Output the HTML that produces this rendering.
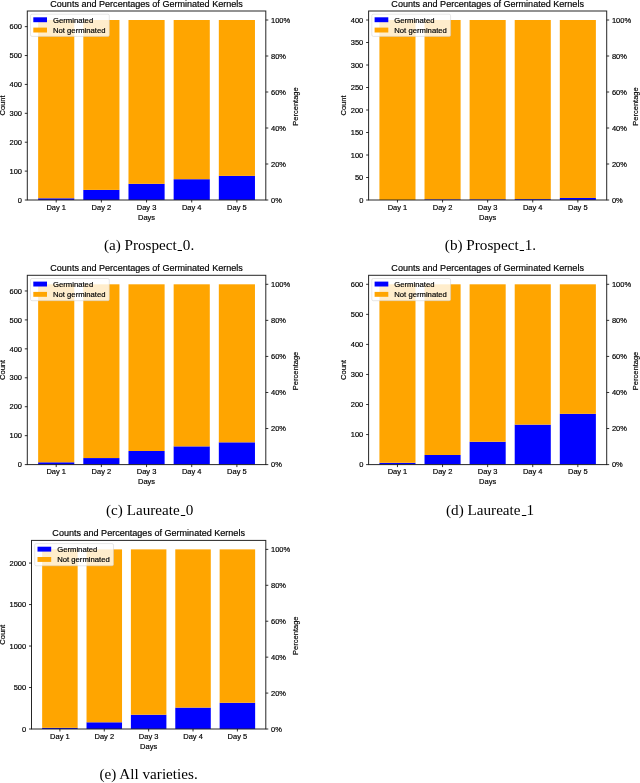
<!DOCTYPE html>
<html><head><meta charset="utf-8"><style>
html,body{margin:0;padding:0;background:#fff;}
body{width:640px;height:783px;position:relative;overflow:hidden;filter:blur(0.3px);}
svg{position:absolute;left:0;top:0;}
svg text{font-family:"Liberation Sans", sans-serif;fill:#000;stroke:#000;stroke-width:0.18px;}
.cap{position:absolute;width:200px;text-align:center;font-family:"Liberation Serif",serif;font-size:13.8px;line-height:15px;color:#000;white-space:nowrap;}
.us{display:inline-block;width:4.0px;height:0.9px;background:#000;vertical-align:baseline;position:relative;top:1.1px;margin:0 0.3px 0 1.2px;}
.cap span.t{display:inline-block;transform-origin:50% 50%;}
</style></head><body>
<svg width="640" height="783" viewBox="0 0 640 783">
<rect x="38.14" y="198.27" width="36.14" height="1.73" fill="#0000ff"/>
<rect x="38.14" y="20.00" width="36.14" height="178.27" fill="#ffa500"/>
<rect x="83.31" y="189.89" width="36.14" height="10.11" fill="#0000ff"/>
<rect x="83.31" y="20.00" width="36.14" height="169.89" fill="#ffa500"/>
<rect x="128.48" y="183.82" width="36.14" height="16.18" fill="#0000ff"/>
<rect x="128.48" y="20.00" width="36.14" height="163.82" fill="#ffa500"/>
<rect x="173.65" y="179.20" width="36.14" height="20.80" fill="#0000ff"/>
<rect x="173.65" y="20.00" width="36.14" height="159.20" fill="#ffa500"/>
<rect x="218.82" y="175.87" width="36.14" height="24.13" fill="#0000ff"/>
<rect x="218.82" y="20.00" width="36.14" height="155.87" fill="#ffa500"/>
<rect x="30.50" y="14.20" width="78.8" height="22.2" rx="1.5" fill="rgba(255,255,255,0.8)" stroke="rgba(204,204,204,0.8)" stroke-width="0.6"/>
<rect x="33.30" y="17.30" width="13.7" height="4.9" fill="#0000ff"/>
<rect x="33.30" y="27.60" width="13.7" height="4.9" fill="#ffa500"/>
<text x="53.00" y="22.60" font-size="7.7">Germinated</text>
<text x="53.00" y="32.80" font-size="7.7">Not germinated</text>
<rect x="27.30" y="11.00" width="238.50" height="189.00" fill="none" stroke="#262626" stroke-width="1.0"/>
<line x1="24.80" y1="200.00" x2="27.30" y2="200.00" stroke="#000" stroke-width="0.8"/>
<text x="22.00" y="202.70" font-size="7.5" text-anchor="end">0</text>
<line x1="24.80" y1="171.11" x2="27.30" y2="171.11" stroke="#000" stroke-width="0.8"/>
<text x="22.00" y="173.81" font-size="7.5" text-anchor="end">100</text>
<line x1="24.80" y1="142.22" x2="27.30" y2="142.22" stroke="#000" stroke-width="0.8"/>
<text x="22.00" y="144.92" font-size="7.5" text-anchor="end">200</text>
<line x1="24.80" y1="113.32" x2="27.30" y2="113.32" stroke="#000" stroke-width="0.8"/>
<text x="22.00" y="116.02" font-size="7.5" text-anchor="end">300</text>
<line x1="24.80" y1="84.43" x2="27.30" y2="84.43" stroke="#000" stroke-width="0.8"/>
<text x="22.00" y="87.13" font-size="7.5" text-anchor="end">400</text>
<line x1="24.80" y1="55.54" x2="27.30" y2="55.54" stroke="#000" stroke-width="0.8"/>
<text x="22.00" y="58.24" font-size="7.5" text-anchor="end">500</text>
<line x1="24.80" y1="26.65" x2="27.30" y2="26.65" stroke="#000" stroke-width="0.8"/>
<text x="22.00" y="29.35" font-size="7.5" text-anchor="end">600</text>
<line x1="265.80" y1="200.00" x2="268.30" y2="200.00" stroke="#000" stroke-width="0.8"/>
<text x="271.00" y="202.70" font-size="7.5">0%</text>
<line x1="265.80" y1="164.00" x2="268.30" y2="164.00" stroke="#000" stroke-width="0.8"/>
<text x="271.00" y="166.70" font-size="7.5">20%</text>
<line x1="265.80" y1="128.00" x2="268.30" y2="128.00" stroke="#000" stroke-width="0.8"/>
<text x="271.00" y="130.70" font-size="7.5">40%</text>
<line x1="265.80" y1="92.00" x2="268.30" y2="92.00" stroke="#000" stroke-width="0.8"/>
<text x="271.00" y="94.70" font-size="7.5">60%</text>
<line x1="265.80" y1="56.00" x2="268.30" y2="56.00" stroke="#000" stroke-width="0.8"/>
<text x="271.00" y="58.70" font-size="7.5">80%</text>
<line x1="265.80" y1="20.00" x2="268.30" y2="20.00" stroke="#000" stroke-width="0.8"/>
<text x="271.00" y="22.70" font-size="7.5">100%</text>
<line x1="56.21" y1="200.00" x2="56.21" y2="202.50" stroke="#000" stroke-width="0.8"/>
<text x="56.21" y="209.75" font-size="7.5" text-anchor="middle">Day 1</text>
<line x1="101.38" y1="200.00" x2="101.38" y2="202.50" stroke="#000" stroke-width="0.8"/>
<text x="101.38" y="209.75" font-size="7.5" text-anchor="middle">Day 2</text>
<line x1="146.55" y1="200.00" x2="146.55" y2="202.50" stroke="#000" stroke-width="0.8"/>
<text x="146.55" y="209.75" font-size="7.5" text-anchor="middle">Day 3</text>
<line x1="191.72" y1="200.00" x2="191.72" y2="202.50" stroke="#000" stroke-width="0.8"/>
<text x="191.72" y="209.75" font-size="7.5" text-anchor="middle">Day 4</text>
<line x1="236.89" y1="200.00" x2="236.89" y2="202.50" stroke="#000" stroke-width="0.8"/>
<text x="236.89" y="209.75" font-size="7.5" text-anchor="middle">Day 5</text>
<text x="146.55" y="219.70" font-size="7.5" text-anchor="middle">Days</text>
<text transform="translate(4.90,105.50) rotate(-90)" font-size="7.5" text-anchor="middle">Count</text>
<text transform="translate(297.50,106.50) rotate(-90)" font-size="7.5" text-anchor="middle">Percentage</text>
<text x="146.55" y="7.00" font-size="8.7" text-anchor="middle" textLength="192.6" lengthAdjust="spacingAndGlyphs">Counts and Percentages of Germinated Kernels</text><rect x="379.42" y="200.00" width="36.08" height="0.00" fill="#0000ff"/>
<rect x="379.42" y="20.00" width="36.08" height="180.00" fill="#ffa500"/>
<rect x="424.52" y="199.32" width="36.08" height="0.68" fill="#0000ff"/>
<rect x="424.52" y="20.00" width="36.08" height="179.32" fill="#ffa500"/>
<rect x="469.61" y="199.32" width="36.08" height="0.68" fill="#0000ff"/>
<rect x="469.61" y="20.00" width="36.08" height="179.32" fill="#ffa500"/>
<rect x="514.71" y="199.10" width="36.08" height="0.90" fill="#0000ff"/>
<rect x="514.71" y="20.00" width="36.08" height="179.10" fill="#ffa500"/>
<rect x="559.80" y="197.97" width="36.08" height="2.03" fill="#0000ff"/>
<rect x="559.80" y="20.00" width="36.08" height="177.97" fill="#ffa500"/>
<rect x="371.80" y="14.20" width="78.8" height="22.2" rx="1.5" fill="rgba(255,255,255,0.8)" stroke="rgba(204,204,204,0.8)" stroke-width="0.6"/>
<rect x="374.60" y="17.30" width="13.7" height="4.9" fill="#0000ff"/>
<rect x="374.60" y="27.60" width="13.7" height="4.9" fill="#ffa500"/>
<text x="394.30" y="22.60" font-size="7.7">Germinated</text>
<text x="394.30" y="32.80" font-size="7.7">Not germinated</text>
<rect x="368.60" y="11.00" width="238.10" height="189.00" fill="none" stroke="#262626" stroke-width="1.0"/>
<line x1="366.10" y1="200.00" x2="368.60" y2="200.00" stroke="#000" stroke-width="0.8"/>
<text x="363.30" y="202.70" font-size="7.5" text-anchor="end">0</text>
<line x1="366.10" y1="177.50" x2="368.60" y2="177.50" stroke="#000" stroke-width="0.8"/>
<text x="363.30" y="180.20" font-size="7.5" text-anchor="end">50</text>
<line x1="366.10" y1="155.00" x2="368.60" y2="155.00" stroke="#000" stroke-width="0.8"/>
<text x="363.30" y="157.70" font-size="7.5" text-anchor="end">100</text>
<line x1="366.10" y1="132.50" x2="368.60" y2="132.50" stroke="#000" stroke-width="0.8"/>
<text x="363.30" y="135.20" font-size="7.5" text-anchor="end">150</text>
<line x1="366.10" y1="110.00" x2="368.60" y2="110.00" stroke="#000" stroke-width="0.8"/>
<text x="363.30" y="112.70" font-size="7.5" text-anchor="end">200</text>
<line x1="366.10" y1="87.50" x2="368.60" y2="87.50" stroke="#000" stroke-width="0.8"/>
<text x="363.30" y="90.20" font-size="7.5" text-anchor="end">250</text>
<line x1="366.10" y1="65.00" x2="368.60" y2="65.00" stroke="#000" stroke-width="0.8"/>
<text x="363.30" y="67.70" font-size="7.5" text-anchor="end">300</text>
<line x1="366.10" y1="42.50" x2="368.60" y2="42.50" stroke="#000" stroke-width="0.8"/>
<text x="363.30" y="45.20" font-size="7.5" text-anchor="end">350</text>
<line x1="366.10" y1="20.00" x2="368.60" y2="20.00" stroke="#000" stroke-width="0.8"/>
<text x="363.30" y="22.70" font-size="7.5" text-anchor="end">400</text>
<line x1="606.70" y1="200.00" x2="609.20" y2="200.00" stroke="#000" stroke-width="0.8"/>
<text x="611.90" y="202.70" font-size="7.5">0%</text>
<line x1="606.70" y1="164.00" x2="609.20" y2="164.00" stroke="#000" stroke-width="0.8"/>
<text x="611.90" y="166.70" font-size="7.5">20%</text>
<line x1="606.70" y1="128.00" x2="609.20" y2="128.00" stroke="#000" stroke-width="0.8"/>
<text x="611.90" y="130.70" font-size="7.5">40%</text>
<line x1="606.70" y1="92.00" x2="609.20" y2="92.00" stroke="#000" stroke-width="0.8"/>
<text x="611.90" y="94.70" font-size="7.5">60%</text>
<line x1="606.70" y1="56.00" x2="609.20" y2="56.00" stroke="#000" stroke-width="0.8"/>
<text x="611.90" y="58.70" font-size="7.5">80%</text>
<line x1="606.70" y1="20.00" x2="609.20" y2="20.00" stroke="#000" stroke-width="0.8"/>
<text x="611.90" y="22.70" font-size="7.5">100%</text>
<line x1="397.46" y1="200.00" x2="397.46" y2="202.50" stroke="#000" stroke-width="0.8"/>
<text x="397.46" y="209.75" font-size="7.5" text-anchor="middle">Day 1</text>
<line x1="442.56" y1="200.00" x2="442.56" y2="202.50" stroke="#000" stroke-width="0.8"/>
<text x="442.56" y="209.75" font-size="7.5" text-anchor="middle">Day 2</text>
<line x1="487.65" y1="200.00" x2="487.65" y2="202.50" stroke="#000" stroke-width="0.8"/>
<text x="487.65" y="209.75" font-size="7.5" text-anchor="middle">Day 3</text>
<line x1="532.74" y1="200.00" x2="532.74" y2="202.50" stroke="#000" stroke-width="0.8"/>
<text x="532.74" y="209.75" font-size="7.5" text-anchor="middle">Day 4</text>
<line x1="577.84" y1="200.00" x2="577.84" y2="202.50" stroke="#000" stroke-width="0.8"/>
<text x="577.84" y="209.75" font-size="7.5" text-anchor="middle">Day 5</text>
<text x="487.65" y="219.70" font-size="7.5" text-anchor="middle">Days</text>
<text transform="translate(345.70,105.50) rotate(-90)" font-size="7.5" text-anchor="middle">Count</text>
<text transform="translate(638.40,106.50) rotate(-90)" font-size="7.5" text-anchor="middle">Percentage</text>
<text x="487.65" y="7.00" font-size="8.7" text-anchor="middle" textLength="192.6" lengthAdjust="spacingAndGlyphs">Counts and Percentages of Germinated Kernels</text><rect x="38.14" y="462.28" width="36.14" height="2.32" fill="#0000ff"/>
<rect x="38.14" y="284.31" width="36.14" height="177.97" fill="#ffa500"/>
<rect x="83.31" y="458.06" width="36.14" height="6.54" fill="#0000ff"/>
<rect x="83.31" y="284.31" width="36.14" height="173.75" fill="#ffa500"/>
<rect x="128.48" y="451.00" width="36.14" height="13.60" fill="#0000ff"/>
<rect x="128.48" y="284.31" width="36.14" height="166.68" fill="#ffa500"/>
<rect x="173.65" y="446.37" width="36.14" height="18.23" fill="#0000ff"/>
<rect x="173.65" y="284.31" width="36.14" height="162.05" fill="#ffa500"/>
<rect x="218.82" y="442.32" width="36.14" height="22.28" fill="#0000ff"/>
<rect x="218.82" y="284.31" width="36.14" height="158.00" fill="#ffa500"/>
<rect x="30.50" y="278.50" width="78.8" height="22.2" rx="1.5" fill="rgba(255,255,255,0.8)" stroke="rgba(204,204,204,0.8)" stroke-width="0.6"/>
<rect x="33.30" y="281.60" width="13.7" height="4.9" fill="#0000ff"/>
<rect x="33.30" y="291.90" width="13.7" height="4.9" fill="#ffa500"/>
<text x="53.00" y="286.90" font-size="7.7">Germinated</text>
<text x="53.00" y="297.10" font-size="7.7">Not germinated</text>
<rect x="27.30" y="275.30" width="238.50" height="189.30" fill="none" stroke="#262626" stroke-width="1.0"/>
<line x1="24.80" y1="464.60" x2="27.30" y2="464.60" stroke="#000" stroke-width="0.8"/>
<text x="22.00" y="467.30" font-size="7.5" text-anchor="end">0</text>
<line x1="24.80" y1="435.66" x2="27.30" y2="435.66" stroke="#000" stroke-width="0.8"/>
<text x="22.00" y="438.36" font-size="7.5" text-anchor="end">100</text>
<line x1="24.80" y1="406.72" x2="27.30" y2="406.72" stroke="#000" stroke-width="0.8"/>
<text x="22.00" y="409.42" font-size="7.5" text-anchor="end">200</text>
<line x1="24.80" y1="377.79" x2="27.30" y2="377.79" stroke="#000" stroke-width="0.8"/>
<text x="22.00" y="380.49" font-size="7.5" text-anchor="end">300</text>
<line x1="24.80" y1="348.85" x2="27.30" y2="348.85" stroke="#000" stroke-width="0.8"/>
<text x="22.00" y="351.55" font-size="7.5" text-anchor="end">400</text>
<line x1="24.80" y1="319.91" x2="27.30" y2="319.91" stroke="#000" stroke-width="0.8"/>
<text x="22.00" y="322.61" font-size="7.5" text-anchor="end">500</text>
<line x1="24.80" y1="290.97" x2="27.30" y2="290.97" stroke="#000" stroke-width="0.8"/>
<text x="22.00" y="293.67" font-size="7.5" text-anchor="end">600</text>
<line x1="265.80" y1="464.60" x2="268.30" y2="464.60" stroke="#000" stroke-width="0.8"/>
<text x="271.00" y="467.30" font-size="7.5">0%</text>
<line x1="265.80" y1="428.54" x2="268.30" y2="428.54" stroke="#000" stroke-width="0.8"/>
<text x="271.00" y="431.24" font-size="7.5">20%</text>
<line x1="265.80" y1="392.49" x2="268.30" y2="392.49" stroke="#000" stroke-width="0.8"/>
<text x="271.00" y="395.19" font-size="7.5">40%</text>
<line x1="265.80" y1="356.43" x2="268.30" y2="356.43" stroke="#000" stroke-width="0.8"/>
<text x="271.00" y="359.13" font-size="7.5">60%</text>
<line x1="265.80" y1="320.37" x2="268.30" y2="320.37" stroke="#000" stroke-width="0.8"/>
<text x="271.00" y="323.07" font-size="7.5">80%</text>
<line x1="265.80" y1="284.31" x2="268.30" y2="284.31" stroke="#000" stroke-width="0.8"/>
<text x="271.00" y="287.01" font-size="7.5">100%</text>
<line x1="56.21" y1="464.60" x2="56.21" y2="467.10" stroke="#000" stroke-width="0.8"/>
<text x="56.21" y="474.35" font-size="7.5" text-anchor="middle">Day 1</text>
<line x1="101.38" y1="464.60" x2="101.38" y2="467.10" stroke="#000" stroke-width="0.8"/>
<text x="101.38" y="474.35" font-size="7.5" text-anchor="middle">Day 2</text>
<line x1="146.55" y1="464.60" x2="146.55" y2="467.10" stroke="#000" stroke-width="0.8"/>
<text x="146.55" y="474.35" font-size="7.5" text-anchor="middle">Day 3</text>
<line x1="191.72" y1="464.60" x2="191.72" y2="467.10" stroke="#000" stroke-width="0.8"/>
<text x="191.72" y="474.35" font-size="7.5" text-anchor="middle">Day 4</text>
<line x1="236.89" y1="464.60" x2="236.89" y2="467.10" stroke="#000" stroke-width="0.8"/>
<text x="236.89" y="474.35" font-size="7.5" text-anchor="middle">Day 5</text>
<text x="146.55" y="484.30" font-size="7.5" text-anchor="middle">Days</text>
<text transform="translate(4.90,369.95) rotate(-90)" font-size="7.5" text-anchor="middle">Count</text>
<text transform="translate(297.50,370.95) rotate(-90)" font-size="7.5" text-anchor="middle">Percentage</text>
<text x="146.55" y="271.30" font-size="8.7" text-anchor="middle" textLength="192.6" lengthAdjust="spacingAndGlyphs">Counts and Percentages of Germinated Kernels</text><rect x="379.42" y="462.80" width="36.08" height="1.80" fill="#0000ff"/>
<rect x="379.42" y="284.31" width="36.08" height="178.48" fill="#ffa500"/>
<rect x="424.52" y="454.98" width="36.08" height="9.62" fill="#0000ff"/>
<rect x="424.52" y="284.31" width="36.08" height="170.67" fill="#ffa500"/>
<rect x="469.61" y="441.76" width="36.08" height="22.84" fill="#0000ff"/>
<rect x="469.61" y="284.31" width="36.08" height="157.45" fill="#ffa500"/>
<rect x="514.71" y="424.64" width="36.08" height="39.96" fill="#0000ff"/>
<rect x="514.71" y="284.31" width="36.08" height="140.32" fill="#ffa500"/>
<rect x="559.80" y="413.82" width="36.08" height="50.78" fill="#0000ff"/>
<rect x="559.80" y="284.31" width="36.08" height="129.51" fill="#ffa500"/>
<rect x="371.80" y="278.50" width="78.8" height="22.2" rx="1.5" fill="rgba(255,255,255,0.8)" stroke="rgba(204,204,204,0.8)" stroke-width="0.6"/>
<rect x="374.60" y="281.60" width="13.7" height="4.9" fill="#0000ff"/>
<rect x="374.60" y="291.90" width="13.7" height="4.9" fill="#ffa500"/>
<text x="394.30" y="286.90" font-size="7.7">Germinated</text>
<text x="394.30" y="297.10" font-size="7.7">Not germinated</text>
<rect x="368.60" y="275.30" width="238.10" height="189.30" fill="none" stroke="#262626" stroke-width="1.0"/>
<line x1="366.10" y1="464.60" x2="368.60" y2="464.60" stroke="#000" stroke-width="0.8"/>
<text x="363.30" y="467.30" font-size="7.5" text-anchor="end">0</text>
<line x1="366.10" y1="434.55" x2="368.60" y2="434.55" stroke="#000" stroke-width="0.8"/>
<text x="363.30" y="437.25" font-size="7.5" text-anchor="end">100</text>
<line x1="366.10" y1="404.50" x2="368.60" y2="404.50" stroke="#000" stroke-width="0.8"/>
<text x="363.30" y="407.20" font-size="7.5" text-anchor="end">200</text>
<line x1="366.10" y1="374.46" x2="368.60" y2="374.46" stroke="#000" stroke-width="0.8"/>
<text x="363.30" y="377.16" font-size="7.5" text-anchor="end">300</text>
<line x1="366.10" y1="344.41" x2="368.60" y2="344.41" stroke="#000" stroke-width="0.8"/>
<text x="363.30" y="347.11" font-size="7.5" text-anchor="end">400</text>
<line x1="366.10" y1="314.36" x2="368.60" y2="314.36" stroke="#000" stroke-width="0.8"/>
<text x="363.30" y="317.06" font-size="7.5" text-anchor="end">500</text>
<line x1="366.10" y1="284.31" x2="368.60" y2="284.31" stroke="#000" stroke-width="0.8"/>
<text x="363.30" y="287.01" font-size="7.5" text-anchor="end">600</text>
<line x1="606.70" y1="464.60" x2="609.20" y2="464.60" stroke="#000" stroke-width="0.8"/>
<text x="611.90" y="467.30" font-size="7.5">0%</text>
<line x1="606.70" y1="428.54" x2="609.20" y2="428.54" stroke="#000" stroke-width="0.8"/>
<text x="611.90" y="431.24" font-size="7.5">20%</text>
<line x1="606.70" y1="392.49" x2="609.20" y2="392.49" stroke="#000" stroke-width="0.8"/>
<text x="611.90" y="395.19" font-size="7.5">40%</text>
<line x1="606.70" y1="356.43" x2="609.20" y2="356.43" stroke="#000" stroke-width="0.8"/>
<text x="611.90" y="359.13" font-size="7.5">60%</text>
<line x1="606.70" y1="320.37" x2="609.20" y2="320.37" stroke="#000" stroke-width="0.8"/>
<text x="611.90" y="323.07" font-size="7.5">80%</text>
<line x1="606.70" y1="284.31" x2="609.20" y2="284.31" stroke="#000" stroke-width="0.8"/>
<text x="611.90" y="287.01" font-size="7.5">100%</text>
<line x1="397.46" y1="464.60" x2="397.46" y2="467.10" stroke="#000" stroke-width="0.8"/>
<text x="397.46" y="474.35" font-size="7.5" text-anchor="middle">Day 1</text>
<line x1="442.56" y1="464.60" x2="442.56" y2="467.10" stroke="#000" stroke-width="0.8"/>
<text x="442.56" y="474.35" font-size="7.5" text-anchor="middle">Day 2</text>
<line x1="487.65" y1="464.60" x2="487.65" y2="467.10" stroke="#000" stroke-width="0.8"/>
<text x="487.65" y="474.35" font-size="7.5" text-anchor="middle">Day 3</text>
<line x1="532.74" y1="464.60" x2="532.74" y2="467.10" stroke="#000" stroke-width="0.8"/>
<text x="532.74" y="474.35" font-size="7.5" text-anchor="middle">Day 4</text>
<line x1="577.84" y1="464.60" x2="577.84" y2="467.10" stroke="#000" stroke-width="0.8"/>
<text x="577.84" y="474.35" font-size="7.5" text-anchor="middle">Day 5</text>
<text x="487.65" y="484.30" font-size="7.5" text-anchor="middle">Days</text>
<text transform="translate(345.70,369.95) rotate(-90)" font-size="7.5" text-anchor="middle">Count</text>
<text transform="translate(638.40,370.95) rotate(-90)" font-size="7.5" text-anchor="middle">Percentage</text>
<text x="487.65" y="271.30" font-size="8.7" text-anchor="middle" textLength="192.6" lengthAdjust="spacingAndGlyphs">Counts and Percentages of Germinated Kernels</text><rect x="42.15" y="727.84" width="35.50" height="1.16" fill="#0000ff"/>
<rect x="42.15" y="549.38" width="35.50" height="178.46" fill="#ffa500"/>
<rect x="86.53" y="722.28" width="35.50" height="6.72" fill="#0000ff"/>
<rect x="86.53" y="549.38" width="35.50" height="172.90" fill="#ffa500"/>
<rect x="130.90" y="714.73" width="35.50" height="14.27" fill="#0000ff"/>
<rect x="130.90" y="549.38" width="35.50" height="165.35" fill="#ffa500"/>
<rect x="175.28" y="707.60" width="35.50" height="21.40" fill="#0000ff"/>
<rect x="175.28" y="549.38" width="35.50" height="158.21" fill="#ffa500"/>
<rect x="219.65" y="702.78" width="35.50" height="26.22" fill="#0000ff"/>
<rect x="219.65" y="549.38" width="35.50" height="153.40" fill="#ffa500"/>
<rect x="34.70" y="543.60" width="78.8" height="22.2" rx="1.5" fill="rgba(255,255,255,0.8)" stroke="rgba(204,204,204,0.8)" stroke-width="0.6"/>
<rect x="37.50" y="546.70" width="13.7" height="4.9" fill="#0000ff"/>
<rect x="37.50" y="557.00" width="13.7" height="4.9" fill="#ffa500"/>
<text x="57.20" y="552.00" font-size="7.7">Germinated</text>
<text x="57.20" y="562.20" font-size="7.7">Not germinated</text>
<rect x="31.50" y="540.40" width="234.30" height="188.60" fill="none" stroke="#262626" stroke-width="1.0"/>
<line x1="29.00" y1="729.00" x2="31.50" y2="729.00" stroke="#000" stroke-width="0.8"/>
<text x="26.20" y="731.70" font-size="7.5" text-anchor="end">0</text>
<line x1="29.00" y1="687.52" x2="31.50" y2="687.52" stroke="#000" stroke-width="0.8"/>
<text x="26.20" y="690.22" font-size="7.5" text-anchor="end">500</text>
<line x1="29.00" y1="646.04" x2="31.50" y2="646.04" stroke="#000" stroke-width="0.8"/>
<text x="26.20" y="648.74" font-size="7.5" text-anchor="end">1000</text>
<line x1="29.00" y1="604.55" x2="31.50" y2="604.55" stroke="#000" stroke-width="0.8"/>
<text x="26.20" y="607.25" font-size="7.5" text-anchor="end">1500</text>
<line x1="29.00" y1="563.07" x2="31.50" y2="563.07" stroke="#000" stroke-width="0.8"/>
<text x="26.20" y="565.77" font-size="7.5" text-anchor="end">2000</text>
<line x1="265.80" y1="729.00" x2="268.30" y2="729.00" stroke="#000" stroke-width="0.8"/>
<text x="271.00" y="731.70" font-size="7.5">0%</text>
<line x1="265.80" y1="693.08" x2="268.30" y2="693.08" stroke="#000" stroke-width="0.8"/>
<text x="271.00" y="695.78" font-size="7.5">20%</text>
<line x1="265.80" y1="657.15" x2="268.30" y2="657.15" stroke="#000" stroke-width="0.8"/>
<text x="271.00" y="659.85" font-size="7.5">40%</text>
<line x1="265.80" y1="621.23" x2="268.30" y2="621.23" stroke="#000" stroke-width="0.8"/>
<text x="271.00" y="623.93" font-size="7.5">60%</text>
<line x1="265.80" y1="585.30" x2="268.30" y2="585.30" stroke="#000" stroke-width="0.8"/>
<text x="271.00" y="588.00" font-size="7.5">80%</text>
<line x1="265.80" y1="549.38" x2="268.30" y2="549.38" stroke="#000" stroke-width="0.8"/>
<text x="271.00" y="552.08" font-size="7.5">100%</text>
<line x1="59.90" y1="729.00" x2="59.90" y2="731.50" stroke="#000" stroke-width="0.8"/>
<text x="59.90" y="738.75" font-size="7.5" text-anchor="middle">Day 1</text>
<line x1="104.28" y1="729.00" x2="104.28" y2="731.50" stroke="#000" stroke-width="0.8"/>
<text x="104.28" y="738.75" font-size="7.5" text-anchor="middle">Day 2</text>
<line x1="148.65" y1="729.00" x2="148.65" y2="731.50" stroke="#000" stroke-width="0.8"/>
<text x="148.65" y="738.75" font-size="7.5" text-anchor="middle">Day 3</text>
<line x1="193.03" y1="729.00" x2="193.03" y2="731.50" stroke="#000" stroke-width="0.8"/>
<text x="193.03" y="738.75" font-size="7.5" text-anchor="middle">Day 4</text>
<line x1="237.40" y1="729.00" x2="237.40" y2="731.50" stroke="#000" stroke-width="0.8"/>
<text x="237.40" y="738.75" font-size="7.5" text-anchor="middle">Day 5</text>
<text x="148.65" y="748.70" font-size="7.5" text-anchor="middle">Days</text>
<text transform="translate(5.00,634.70) rotate(-90)" font-size="7.5" text-anchor="middle">Count</text>
<text transform="translate(297.50,635.70) rotate(-90)" font-size="7.5" text-anchor="middle">Percentage</text>
<text x="148.65" y="536.40" font-size="8.7" text-anchor="middle" textLength="192.6" lengthAdjust="spacingAndGlyphs">Counts and Percentages of Germinated Kernels</text>
</svg>
<div class="cap" style="left:48.80000000000001px;top:237.70000000000002px"><span class="t" style="transform:scaleX(1.1)">(a) Prospect<span class="us"></span>0.</span></div><div class="cap" style="left:390px;top:237.70000000000002px"><span class="t" style="transform:scaleX(1.1)">(b) Prospect<span class="us"></span>1.</span></div><div class="cap" style="left:49.400000000000006px;top:502.50000000000006px"><span class="t" style="transform:scaleX(1.1)">(c) Laureate<span class="us"></span>0</span></div><div class="cap" style="left:389.7px;top:502.50000000000006px"><span class="t" style="transform:scaleX(1.1)">(d) Laureate<span class="us"></span>1</span></div><div class="cap" style="left:48.80000000000001px;top:767.0999999999999px"><span class="t" style="transform:scaleX(1.1)">(e) All varieties.</span></div>
</body></html>
